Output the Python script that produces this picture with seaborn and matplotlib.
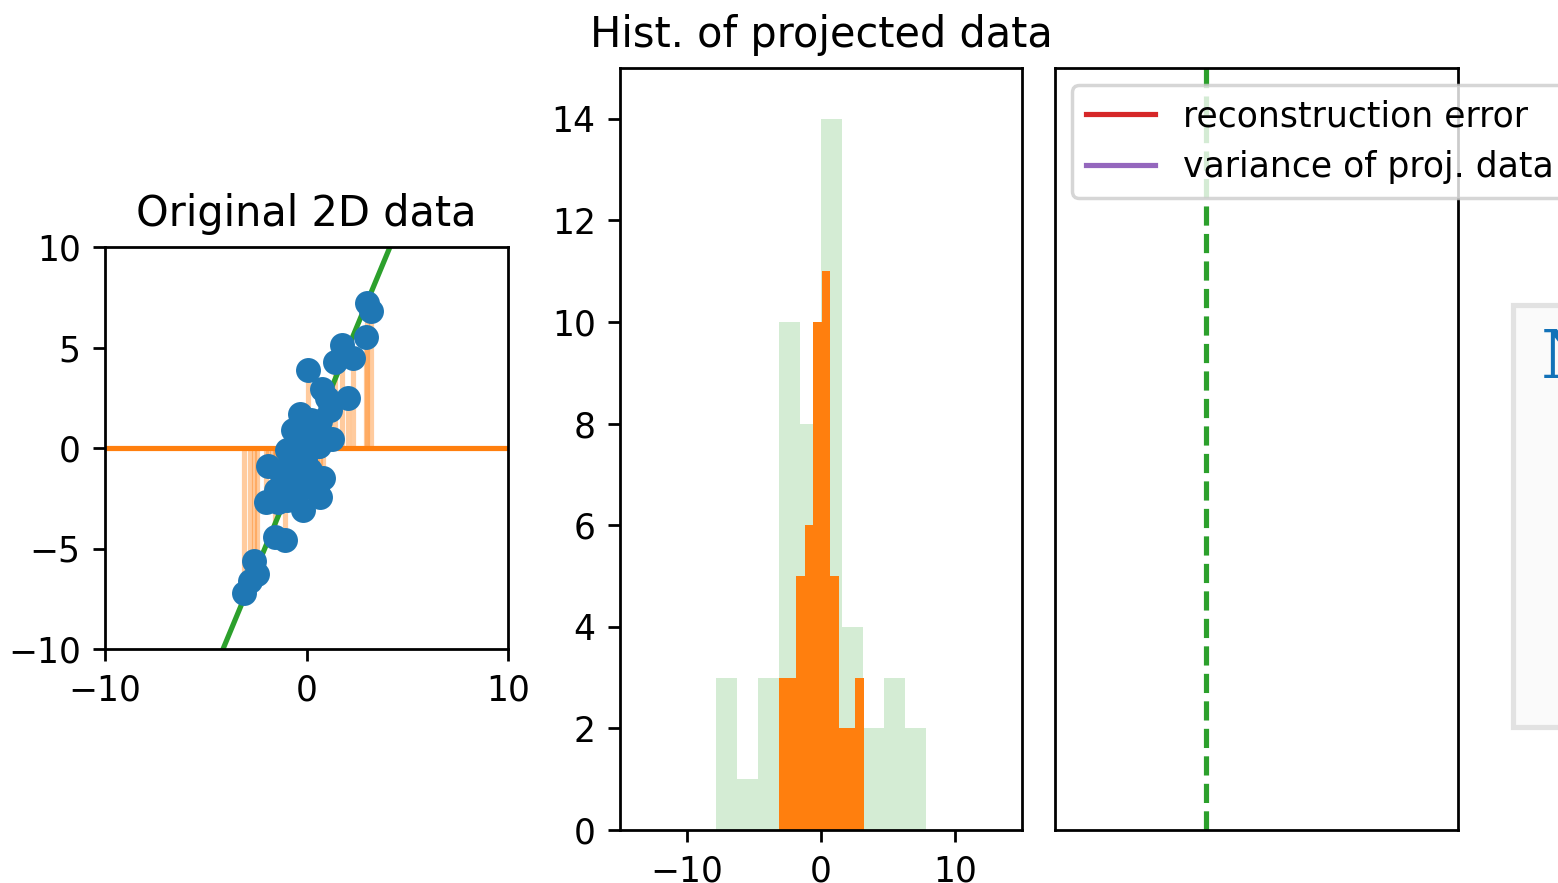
import numpy as np
import pandas as pd
import seaborn as sns
import matplotlib.pyplot as plt
from matplotlib.patches import Rectangle

# 2D sample points
x_vals = [3.0, 3.2, 2.95, 1.75, 2.32, 1.41, 0.09, 2.07, 0.75, 1.02, 1.17,
          -3.10, -2.80, -2.45, -2.60, -1.56, -1.07, -2.0,
          -1.90, -1.73, 0.83, 0.66, -0.16, 1.25,
          -1.5, -1.3, -1.4,
          -0.98, -0.65, -0.98, -0.66, -0.8,
          -0.32, -0.32, -0.1, -0.45, -0.2, 0.0, -0.5, -0.25, -0.05,
          0.17, 0.5, 0.67, 0.3, 0.45, 0.2, 0.6, 0.1, 0.55]
y_vals = [7.2, 6.8, 5.5, 5.12, 4.46, 4.29, 3.88, 2.5, 2.95, 2.5, 1.9,
          -7.2, -6.6, -6.25, -5.6, -4.41, -4.58, -2.7,
          -0.9, -2.59, -1.51, -2.45, -3.08, 0.45,
          -2.1, -1.15, -2.7,
          -2.59, -1.76, -0.1, 0.9, -1.0,
          -0.43, 1.7, 0.4, 0.2, 1.1, 0.7, -2.3, -1.8, -0.6,
          -1.09, -2.09, 1.35, 0.5, 1.0, 1.4, 0.1, 0.0, 0.1]

best_angle = 67.5      # green direction (degrees)
current_angle = 0.0    # orange direction (degrees)

df = pd.DataFrame({"x": x_vals, "y": y_vals})
best = np.deg2rad(best_angle)
cur = np.deg2rad(current_angle)
df["proj_best"] = df["x"] * np.cos(best) + df["y"] * np.sin(best)
df["proj_cur"] = df["x"] * np.cos(cur) + df["y"] * np.sin(cur)

W, H, DPI = 1558, 883, 249
fig = plt.figure(figsize=(W / DPI, H / DPI), dpi=DPI)

ax1 = fig.add_axes([105 / W, 1 - 649 / H, 403 / W, 402 / H])
ax2 = fig.add_axes([620 / W, 1 - 830 / H, 402 / W, 762 / H])
ax3 = fig.add_axes([1055 / W, 1 - 830 / H, 403 / W, 762 / H])

# --- original data with residuals to the current direction
ax1.vlines(df["x"], 0, df["y"], color="tab:orange", alpha=0.4, lw=1.5, zorder=1)
L = 30
ax1.plot([-L * np.cos(best), L * np.cos(best)], [-L * np.sin(best), L * np.sin(best)],
         color="tab:green", lw=1.5, zorder=2)
ax1.plot([-L * np.cos(cur), L * np.cos(cur)], [-L * np.sin(cur), L * np.sin(cur)],
         color="tab:orange", lw=1.5, zorder=2)
sns.scatterplot(data=df, x="x", y="y", ax=ax1, color="tab:blue", s=52,
                linewidth=0, zorder=3)
ax1.set_xlim(-10, 10)
ax1.set_ylim(-10, 10)
ax1.set_xticks([-10, 0, 10])
ax1.set_yticks([-10, -5, 0, 5, 10])
ax1.set_xlabel("")
ax1.set_ylabel("")
ax1.set_title("Original 2D data")

# --- histograms of projections
sns.histplot(df["proj_best"], bins=10, ax=ax2, color="tab:green", alpha=0.2,
             linewidth=0, edgecolor="none")
sns.histplot(df["proj_cur"], bins=10, ax=ax2, color="tab:orange", alpha=1.0,
             linewidth=0, edgecolor="none")
ax2.set_xlim(-15, 15)
ax2.set_ylim(0, 15)
ax2.set_xticks([-10, 0, 10])
ax2.set_yticks([0, 2, 4, 6, 8, 10, 12, 14])
ax2.set_xlabel("")
ax2.set_ylabel("")
ax2.set_title("Hist. of projected data")

# --- error / variance vs angle
ax3.plot([], [], color="tab:red", label="reconstruction error")
ax3.plot([], [], color="tab:purple", label="variance of proj. data")
ax3.axvline(best_angle, color="tab:green", ls="--", lw=1.5)
ax3.set_xlim(0, 180)
ax3.set_ylim(0, 1)
ax3.set_xticks([])
ax3.set_yticks([])
ax3.legend(loc="upper left")

# widget box peeking in on the right (cut off by the edge, as in the source)
fig.patches.append(Rectangle((1513 / W, 1 - 727 / H), 0.1, 422 / H,
                             transform=fig.transFigure, facecolor="#fafafa",
                             edgecolor="#e2e2e2", lw=1.5))
fig.text(1541 / W, 1 - 378 / H, "N", color="#1372b8", fontsize=19.5,
         family="DejaVu Serif", va="baseline", ha="left")

fig.savefig("out.png", dpi=DPI)
